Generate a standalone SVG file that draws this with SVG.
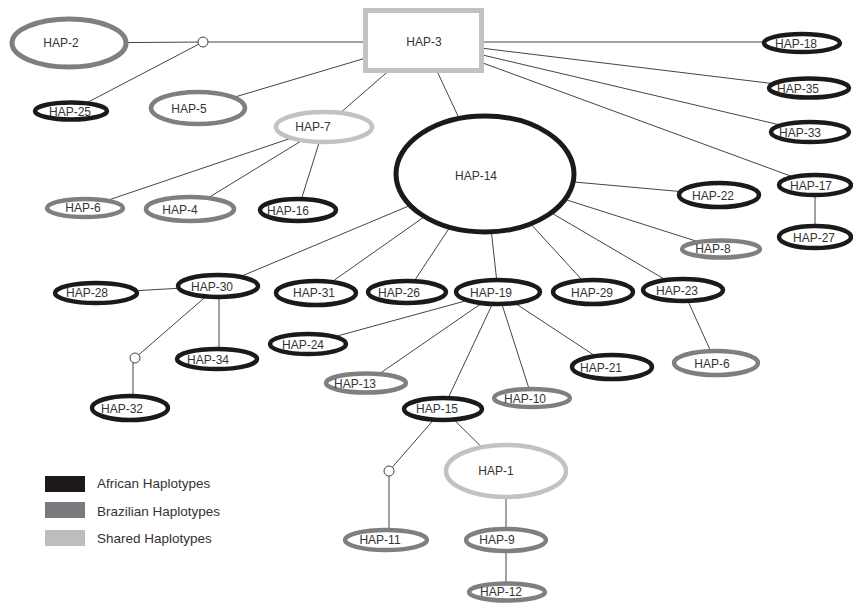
<svg xmlns="http://www.w3.org/2000/svg" width="853" height="603" viewBox="0 0 853 603">
<style>
.bg{fill:#fff}
.e{stroke:#444;stroke-width:1;fill:none}
.af{fill:#fff;stroke:#1a1a1a;stroke-width:4.5}
.br{fill:#fff;stroke:#7f7f7f;stroke-width:4.5}
.sh{fill:#fff;stroke:#c2c2c2;stroke-width:4.5}
.mv{fill:#fff;stroke:#444;stroke-width:1}
text{font-family:"Liberation Sans",Arial,sans-serif;font-size:12px;fill:#333;text-anchor:middle}
.lg{font-size:13.5px;text-anchor:start;fill:#333}
</style>
<rect class="bg" x="0" y="0" width="853" height="603"/>
<g id="connectors">
<line class="e" x1="69" y1="43" x2="203" y2="42"/>
<line class="e" x1="203" y1="42" x2="423" y2="42"/>
<line class="e" x1="71" y1="111" x2="203" y2="42"/>
<line class="e" x1="423" y1="41" x2="198" y2="108"/>
<line class="e" x1="423" y1="41" x2="324" y2="127"/>
<line class="e" x1="423" y1="41" x2="485" y2="174"/>
<line class="e" x1="423" y1="42" x2="802" y2="42"/>
<line class="e" x1="423" y1="41" x2="809" y2="88"/>
<line class="e" x1="423" y1="41" x2="810" y2="132"/>
<line class="e" x1="423" y1="41" x2="815" y2="185"/>
<line class="e" x1="324" y1="127" x2="85" y2="208"/>
<line class="e" x1="324" y1="127" x2="190" y2="209"/>
<line class="e" x1="324" y1="127" x2="298" y2="210"/>
<line class="e" x1="815" y1="185" x2="815" y2="237"/>
<line class="e" x1="485" y1="174" x2="719" y2="195"/>
<line class="e" x1="485" y1="174" x2="721" y2="249"/>
<line class="e" x1="485" y1="174" x2="683" y2="290"/>
<line class="e" x1="485" y1="174" x2="593" y2="292"/>
<line class="e" x1="485" y1="174" x2="498" y2="292"/>
<line class="e" x1="485" y1="174" x2="407" y2="292"/>
<line class="e" x1="485" y1="174" x2="316" y2="293"/>
<line class="e" x1="485" y1="174" x2="218" y2="286"/>
<line class="e" x1="218" y1="286" x2="96" y2="293"/>
<line class="e" x1="219" y1="286" x2="219" y2="359"/>
<line class="e" x1="218" y1="286" x2="135" y2="358"/>
<line class="e" x1="133" y1="358" x2="133" y2="408"/>
<line class="e" x1="498" y1="292" x2="308" y2="344"/>
<line class="e" x1="498" y1="292" x2="366" y2="383"/>
<line class="e" x1="498" y1="292" x2="443" y2="409"/>
<line class="e" x1="498" y1="292" x2="532" y2="398"/>
<line class="e" x1="498" y1="292" x2="612" y2="367"/>
<line class="e" x1="683" y1="290" x2="716" y2="363"/>
<line class="e" x1="443" y1="409" x2="389" y2="471"/>
<line class="e" x1="389" y1="471" x2="389" y2="540"/>
<line class="e" x1="443" y1="409" x2="506" y2="471"/>
<line class="e" x1="506" y1="471" x2="506" y2="592"/>
</g>
<g id="mv1"><circle class="mv" cx="203" cy="42" r="5"/></g>
<g id="mv2"><circle class="mv" cx="135" cy="358" r="5"/></g>
<g id="mv3"><circle class="mv" cx="389" cy="471" r="5"/></g>
<g id="HAP-2"><ellipse class="br" style="stroke-width:5" cx="69" cy="43" rx="57" ry="24"/><text x="61" y="47">HAP-2</text></g>
<g id="HAP-25"><ellipse class="af" cx="71" cy="111" rx="36" ry="8.5"/><text x="70" y="116">HAP-25</text></g>
<g id="HAP-5"><ellipse class="br" cx="198" cy="108" rx="47" ry="16"/><text x="189" y="113">HAP-5</text></g>
<g id="HAP-3"><rect class="sh" style="stroke-width:5" x="365.5" y="10.5" width="116" height="60"/><text x="424" y="46">HAP-3</text></g>
<g id="HAP-18"><ellipse class="af" cx="802" cy="43" rx="38" ry="9"/><text x="796" y="48">HAP-18</text></g>
<g id="HAP-35"><ellipse class="af" cx="809" cy="88" rx="40" ry="9.5"/><text x="798" y="93">HAP-35</text></g>
<g id="HAP-33"><ellipse class="af" cx="810" cy="132" rx="39" ry="10"/><text x="800" y="137">HAP-33</text></g>
<g id="HAP-7"><ellipse class="sh" cx="324" cy="127" rx="48" ry="15"/><text x="313" y="131">HAP-7</text></g>
<g id="HAP-6a"><ellipse class="br" cx="85" cy="208" rx="38" ry="9"/><text x="83" y="212">HAP-6</text></g>
<g id="HAP-4"><ellipse class="br" cx="190" cy="209" rx="44" ry="12"/><text x="180" y="214">HAP-4</text></g>
<g id="HAP-16"><ellipse class="af" cx="298" cy="210" rx="38" ry="11"/><text x="288" y="215">HAP-16</text></g>
<g id="HAP-14"><ellipse class="af" style="stroke-width:5" cx="485" cy="174" rx="89" ry="58"/><text x="476" y="180">HAP-14</text></g>
<g id="HAP-22"><ellipse class="af" cx="719" cy="195" rx="40" ry="12"/><text x="713" y="200">HAP-22</text></g>
<g id="HAP-8"><ellipse class="br" cx="721" cy="249" rx="39" ry="8.5"/><text x="713" y="253">HAP-8</text></g>
<g id="HAP-17"><ellipse class="af" cx="815" cy="185" rx="36" ry="10"/><text x="811" y="190">HAP-17</text></g>
<g id="HAP-27"><ellipse class="af" cx="815" cy="237" rx="36" ry="11"/><text x="814" y="242">HAP-27</text></g>
<g id="HAP-28"><ellipse class="af" cx="96" cy="293" rx="41" ry="10"/><text x="87" y="297">HAP-28</text></g>
<g id="HAP-30"><ellipse class="af" cx="218" cy="286" rx="40" ry="11"/><text x="212" y="291">HAP-30</text></g>
<g id="HAP-31"><ellipse class="af" cx="316" cy="293" rx="40" ry="12"/><text x="314" y="297">HAP-31</text></g>
<g id="HAP-26"><ellipse class="af" cx="407" cy="292" rx="39" ry="11"/><text x="399" y="297">HAP-26</text></g>
<g id="HAP-19"><ellipse class="af" cx="498" cy="292" rx="42" ry="12"/><text x="491" y="297">HAP-19</text></g>
<g id="HAP-29"><ellipse class="af" cx="593" cy="292" rx="40" ry="12"/><text x="592" y="297">HAP-29</text></g>
<g id="HAP-23"><ellipse class="af" cx="683" cy="290" rx="40" ry="11"/><text x="677" y="295">HAP-23</text></g>
<g id="HAP-24"><ellipse class="af" cx="308" cy="344" rx="38" ry="10"/><text x="303" y="349">HAP-24</text></g>
<g id="HAP-34"><ellipse class="af" cx="217" cy="359" rx="40" ry="10"/><text x="208" y="364">HAP-34</text></g>
<g id="HAP-32"><ellipse class="af" cx="130" cy="408" rx="38" ry="12"/><text x="122" y="413">HAP-32</text></g>
<g id="HAP-13"><ellipse class="br" cx="366" cy="383" rx="40" ry="9.5"/><text x="355" y="388">HAP-13</text></g>
<g id="HAP-21"><ellipse class="af" cx="612" cy="367" rx="40" ry="12"/><text x="601" y="372">HAP-21</text></g>
<g id="HAP-6b"><ellipse class="br" cx="716" cy="363" rx="42" ry="12"/><text x="712" y="368">HAP-6</text></g>
<g id="HAP-10"><ellipse class="br" cx="532" cy="398" rx="38" ry="9"/><text x="525" y="403">HAP-10</text></g>
<g id="HAP-15"><ellipse class="af" cx="443" cy="409" rx="39" ry="11"/><text x="437" y="413">HAP-15</text></g>
<g id="HAP-1"><ellipse class="sh" cx="506" cy="471" rx="60" ry="26"/><text x="496" y="475">HAP-1</text></g>
<g id="HAP-11"><ellipse class="br" cx="386" cy="540" rx="41" ry="10"/><text x="380" y="544">HAP-11</text></g>
<g id="HAP-9"><ellipse class="br" cx="506" cy="540" rx="40" ry="11"/><text x="497" y="544">HAP-9</text></g>
<g id="HAP-12"><ellipse class="br" cx="507" cy="592" rx="38" ry="8.5"/><text x="501" y="596">HAP-12</text></g>
<g id="legend">
<rect x="45" y="476" width="40" height="16" fill="#1e1a1a"/>
<rect x="45" y="502" width="40" height="16" fill="#7a7a7e"/>
<rect x="45" y="530" width="40" height="16" fill="#bdbdc0"/>
<text class="lg" x="97" y="488">African Haplotypes</text>
<text class="lg" x="97" y="516">Brazilian Haplotypes</text>
<text class="lg" x="97" y="543">Shared Haplotypes</text>
</g>
</svg>
